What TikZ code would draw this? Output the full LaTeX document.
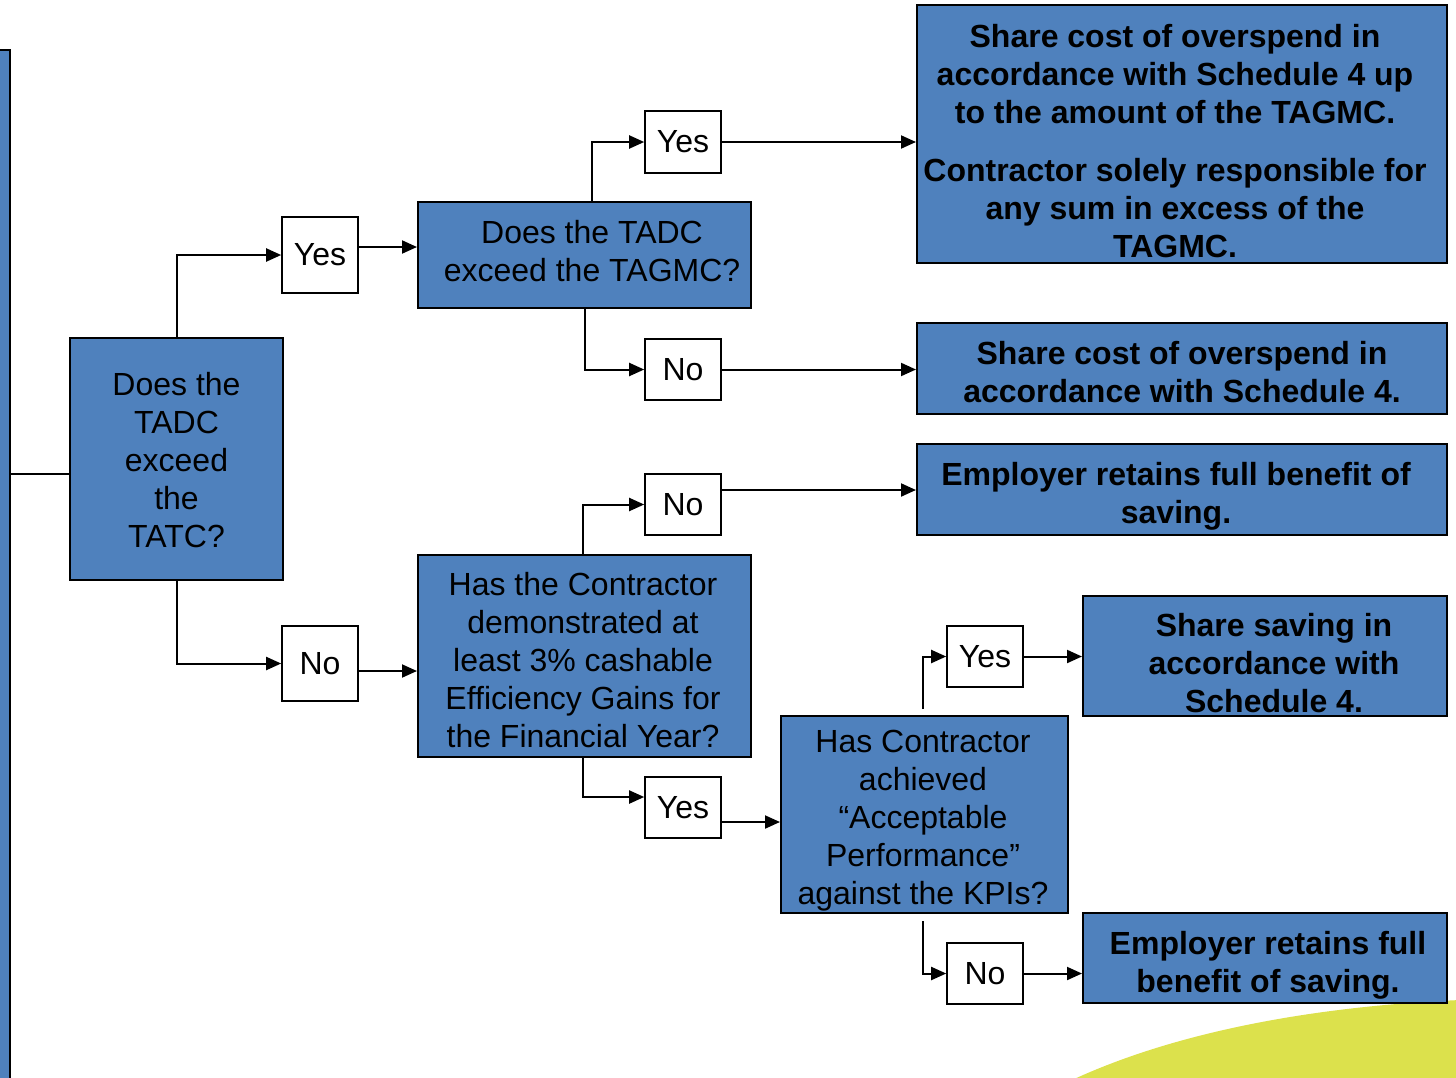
\documentclass[tikz,border=0pt]{standalone}
\usepackage{fontspec}
\setmainfont{Liberation Sans}
\usetikzlibrary{arrows.meta}
\definecolor{boxblue}{HTML}{4F81BD}
\definecolor{swoosh}{HTML}{DCE14C}

\tikzset{
  txt/.style={font=\fontsize{32}{38}\selectfont},
  qbox/.style={draw=black, line width=2pt, fill=boxblue, inner sep=0pt},
  qtext/.style={txt, align=center, inner sep=0pt},
  rtext/.style={qtext, font=\fontsize{32}{38}\selectfont\bfseries},
  tag/.style={txt, draw=black, line width=1.6pt, fill=white, minimum width=76pt,
    minimum height=61pt, inner sep=0pt},
  link/.style={line width=2pt},
  flow/.style={line width=2pt, -{Triangle[length=15pt,width=13pt]}}
}

\begin{document}
\begin{tikzpicture}[x=1pt, y=-1pt]
  \clip (0,0) rectangle (1456,1077);

  % decorative swoosh, lower right
  \fill[swoosh] (1072,1080) .. controls (1180,1030) and (1320,1006) .. (1460,1000)
    -- (1460,1080) -- cycle;

  % side panel on the left edge
  \node[qbox, minimum width=24pt, minimum height=1060pt] (bar) at (-2,580) {};

  % decisions
  \node[qbox, minimum width=213pt, minimum height=242pt] (q1) at (176.5,459) {};
  \node[qtext] (q1t) at ([shift={(0,1)}]q1.center)
    {Does the\\TADC\\exceed\\the\\TATC?};
  \node[qbox, minimum width=333pt, minimum height=106pt] (q2) at (584.5,255) {};
  \node[qtext] (q2t) at ([shift={(7.5,-4)}]q2.center)
    {Does the TADC\\exceed the TAGMC?};
  \node[qbox, minimum width=333pt, minimum height=202pt] (q3) at (584.5,656) {};
  \node[qtext] (q3t) at ([shift={(-1.5,4)}]q3.center)
    {Has the Contractor\\demonstrated at\\least 3\% cashable\\Efficiency Gains for\\the Financial Year?};
  \node[qbox, minimum width=287pt, minimum height=197pt] (q4) at (924.5,814.5) {};
  \node[qtext] (q4t) at ([shift={(-1.5,6)}]q4.center)
    {Has Contractor\\achieved\\“Acceptable\\Performance”\\against the KPIs?};

  % outcomes
  \node[qbox, minimum width=530pt, minimum height=258pt] (r1) at (1182,134) {};
  \node[rtext] (r1t) at ([shift={(-7,7)}]r1.center)
    {Share cost of overspend in\\accordance with Schedule 4 up\\to the amount of the TAGMC.\\[20pt]
     Contractor solely responsible for\\any sum in excess of the\\TAGMC.};
  \node[qbox, minimum width=530pt, minimum height=91pt] (r2) at (1182,368.5) {};
  \node[rtext] (r2t) at ([shift={(0,4)}]r2.center)
    {Share cost of overspend in\\accordance with Schedule 4.};
  \node[qbox, minimum width=530pt, minimum height=91pt] (r3) at (1182,489.5) {};
  \node[rtext] (r3t) at ([shift={(-6,7)}]r3.center)
    {Employer retains full benefit of\\saving.};
  \node[qbox, minimum width=364pt, minimum height=120pt] (r4) at (1265,656) {};
  \node[rtext] (r4t) at ([shift={(9,7)}]r4.center)
    {Share saving in\\accordance with\\Schedule 4.};
  \node[qbox, minimum width=364pt, minimum height=90pt] (r5) at (1265,958) {};
  \node[rtext] (r5t) at ([shift={(3,7)}]r5.center)
    {Employer retains full\\benefit of saving.};

  % answer tags
  \node[tag, minimum height=76pt] (yes1) at (320,255) {Yes};
  \node[tag, minimum height=75pt] (no1) at (320,663.5) {No};
  \node[tag, minimum height=62pt] (yes2) at (683,142) {Yes};
  \node[tag] (no2) at (683,369.5) {No};
  \node[tag] (no3) at (683,504.5) {No};
  \node[tag] (yes3) at (683,807.5) {Yes};
  \node[tag] (yes4) at (985,656.5) {Yes};
  \node[tag] (no4) at (985,973.5) {No};

  % connectors
  \draw[link] (bar.east |- 0,474) -- (q1.west |- 0,474);
  \draw[flow] (q1.north) |- (yes1.west);
  \draw[flow] (q1.south) |- (no1.west);
  \draw[flow] (yes1.east |- 0,247) -- (q2.west |- 0,247);
  \draw[flow] (no1.east |- 0,671) -- (q3.west |- 0,671);

  \draw[flow] (q2.north -| 592,0) |- (yes2.west);
  \draw[flow] (q2.south) |- (no2.west);
  \draw[flow] (yes2.east) -- (yes2.east -| r1.west);
  \draw[flow] (no2.east) -- (no2.east -| r2.west);

  \draw[flow] (q3.north -| 583,0) |- (no3.west);
  \draw[flow] (q3.south -| 583,0) |- (yes3.west |- 0,797);
  \draw[flow] (no3.east |- 0,490) -- (r3.west |- 0,490);
  \draw[flow] (yes3.east |- 0,822) -- (q4.west |- 0,822);

  \draw[flow] ([yshift=6pt]q4.north -| 923,0) |- (yes4.west);
  \draw[flow] ([yshift=-7pt]q4.south -| 923,0) |- (no4.west);
  \draw[flow] (yes4.east) -- (yes4.east -| r4.west);
  \draw[flow] (no4.east) -- (no4.east -| r5.west);
\end{tikzpicture}
\end{document}
